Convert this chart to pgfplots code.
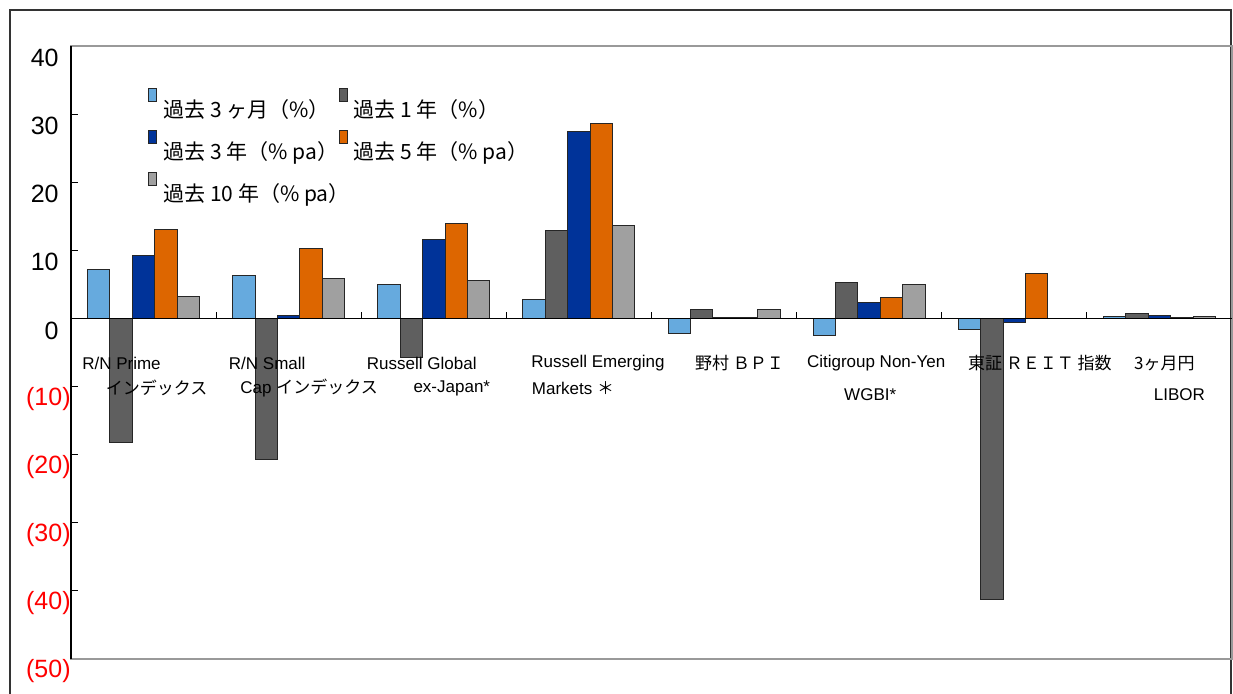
\documentclass[border=0pt]{standalone}
\usepackage{pgfplots}
\pgfplotsset{compat=1.18}
\usepackage{fontspec}
\setmainfont{Liberation Sans}
\newfontfamily\jp{Noto Sans CJK JP}
\definecolor{cA}{RGB}{102,170,222}
\definecolor{cB}{RGB}{95,95,95}
\definecolor{cC}{RGB}{0,51,153}
\definecolor{cD}{RGB}{221,102,0}
\definecolor{cE}{RGB}{160,160,160}
\pgfplotsset{mybar/.style={ybar, bar width=0.1545, draw=black!85, line width=0.5pt,
  legend image code/.code={\draw[##1] (0pt,4pt) rectangle (4pt,10.5pt);}}}
\begin{document}
\begin{tikzpicture}
\path[use as bounding box] (-35.5pt,-17pt) rectangle (581pt,329.5pt);
\draw[black!80, line width=1pt] (-30.5pt,-18pt) -- (-30.5pt,324.5pt) -- (580pt,324.5pt) -- (580pt,-18pt);
\begin{axis}[
  at={(0pt,0pt)}, anchor=south west,
  scale only axis, width=580.5pt, height=306.5pt,
  xmin=-0.5, xmax=7.5, ymin=-50, ymax=40,
  xtick=\empty,
  ytick={-50,-40,-30,-20,-10,0,10,20,30,40},
  yticklabels={\textcolor{red}{(50)},\textcolor{red}{(40)},\textcolor{red}{(30)},\textcolor{red}{(20)},\textcolor{red}{(10)},0\kern6pt,10\kern6pt,20\kern6pt,30\kern6pt,40\kern6pt},
  ytick pos=left,
  major tick length=3.5pt,
  tick style={black, line width=0.5pt},
  axis line style={draw=black!40, line width=0.6pt},
  yticklabel style={anchor=east, inner sep=0pt, yshift=-6pt, font=\fontsize{12.5}{14}\selectfont},
  clip=false,
  legend columns=2,
  legend cell align=left,
  legend style={at={(0.0663,0.9315)}, anchor=north west, draw=none, fill=none,
    inner sep=0pt, row sep=5pt, font=\jp\fontsize{10.5}{12}\selectfont,
    nodes={inner sep=0pt},
    /tikz/every odd column/.append style={column sep=3pt},
    /tikz/every even column/.append style={column sep=-5.5pt}},
]
\addplot[mybar, fill=cA, bar shift=-0.309] coordinates {(0,7.2) (1,6.3) (2,5.0) (3,2.85) (4,-2.2) (5,-2.45) (6,-1.65) (7,0.25)};
\addlegendentry{過去 3 ヶ月（\%）}
\addplot[mybar, fill=cB, bar shift=-0.1545] coordinates {(0,-18.2) (1,-20.7) (2,-5.8) (3,12.9) (4,1.3) (5,5.3) (6,-41.2) (7,0.8)};
\addlegendentry{過去 1 年（\%）}
\addplot[mybar, fill=cC, bar shift=0] coordinates {(0,9.3) (1,0.5) (2,11.65) (3,27.5) (4,0.2) (5,2.35) (6,-0.55) (7,0.5)};
\addlegendentry{過去 3 年（\% pa）}
\addplot[mybar, fill=cD, bar shift=0.1545] coordinates {(0,13.0) (1,10.3) (2,14.0) (3,28.6) (4,0.2) (5,3.1) (6,6.6) (7,0.2)};
\addlegendentry{過去 5 年（\% pa）}
\addplot[mybar, fill=cE, bar shift=0.309] coordinates {(0,3.2) (1,5.8) (2,5.5) (3,13.7) (4,1.3) (5,5.0) (7,0.25)};
\addlegendentry{過去 10 年（\% pa）}
\draw[black, line width=0.6pt] (axis cs:-0.5,0) -- (axis cs:7.5,0);
\draw[black, line width=0.6pt] (rel axis cs:0,0) -- (rel axis cs:0,1);
\pgfplotsinvokeforeach{0.5,1.5,2.5,3.5,4.5,5.5,6.5}{\draw[black, line width=0.5pt] (axis cs:#1,0) -- ++(0pt,3pt);}
\begin{scope}[every node/.style={inner sep=0pt, font=\fontsize{8.5}{10}\selectfont}]
\node at (axis cs:-0.152,-6.56) {R/N Prime};
\node at (axis cs:0.090,-10.24) {\jp インデックス};
\node at (axis cs:0.852,-6.56) {R/N Small};
\node at (axis cs:1.141,-10.24) {Cap {\jp インデックス}};
\node at (axis cs:1.917,-6.56) {Russell Global};
\node at (axis cs:2.124,-10.24) {ex-Japan*};
\node at (axis cs:3.131,-6.56) {Russell Emerging};
\node at (axis cs:2.959,-10.24) {Markets {\jp ＊}};
\node at (axis cs:4.107,-6.56) {\jp 野村 ＢＰＩ};
\node at (axis cs:5.048,-6.56) {Citigroup Non-Yen};
\node at (axis cs:5.007,-11.12) {WGBI*};
\node at (axis cs:6.176,-6.56) {\jp 東証 ＲＥＩＴ 指数};
\node at (axis cs:7.034,-6.56) {\jp 3ヶ月円};
\node at (axis cs:7.138,-11.12) {LIBOR};
\end{scope}
\end{axis}
\end{tikzpicture}
\end{document}
